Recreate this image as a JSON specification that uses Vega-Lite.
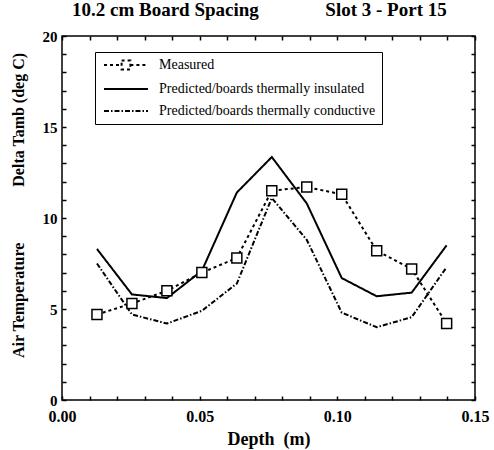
{
  "$schema": "https://vega.github.io/schema/vega-lite/v6.json",
  "width": 413,
  "height": 364,
  "autosize": {"type": "none"},
  "padding": {"left": 62, "top": 36, "right": 19, "bottom": 50},
  "background": "white",
  "config": {
    "font": "Liberation Serif",
    "view": {"stroke": "black", "strokeWidth": 1.5},
    "axis": {"grid": false, "domain": false, "tickColor": "black", "labelColor": "black", "titleColor": "black", "labelFont": "Liberation Serif", "titleFont": "Liberation Serif", "labelFontWeight": "bold", "titleFontWeight": "bold"}
  },
  "title": {
    "text": "10.2 cm Board Spacing\u00a0\u00a0\u00a0\u00a0\u00a0\u00a0\u00a0\u00a0\u00a0\u00a0\u00a0\u00a0\u00a0\u00a0Slot 3 - Port 15",
    "anchor": "start",
    "frame": "group",
    "dx": 10,
    "offset": 9,
    "font": "Liberation Serif",
    "fontSize": 19,
    "fontWeight": "bold",
    "color": "black"
  },
  "data": {
    "values": [
      {"depth": 0.0127, "temp": 4.7, "series": "Measured"},
      {"depth": 0.0254, "temp": 5.3, "series": "Measured"},
      {"depth": 0.0381, "temp": 6.0, "series": "Measured"},
      {"depth": 0.0508, "temp": 7.0, "series": "Measured"},
      {"depth": 0.0635, "temp": 7.8, "series": "Measured"},
      {"depth": 0.0762, "temp": 11.5, "series": "Measured"},
      {"depth": 0.0889, "temp": 11.7, "series": "Measured"},
      {"depth": 0.1016, "temp": 11.3, "series": "Measured"},
      {"depth": 0.1143, "temp": 8.2, "series": "Measured"},
      {"depth": 0.127, "temp": 7.2, "series": "Measured"},
      {"depth": 0.1397, "temp": 4.2, "series": "Measured"},
      {"depth": 0.0127, "temp": 8.3, "series": "Predicted/boards thermally insulated"},
      {"depth": 0.0254, "temp": 5.8, "series": "Predicted/boards thermally insulated"},
      {"depth": 0.0381, "temp": 5.6, "series": "Predicted/boards thermally insulated"},
      {"depth": 0.0508, "temp": 7.1, "series": "Predicted/boards thermally insulated"},
      {"depth": 0.0635, "temp": 11.4, "series": "Predicted/boards thermally insulated"},
      {"depth": 0.0762, "temp": 13.35, "series": "Predicted/boards thermally insulated"},
      {"depth": 0.0889, "temp": 10.8, "series": "Predicted/boards thermally insulated"},
      {"depth": 0.1016, "temp": 6.7, "series": "Predicted/boards thermally insulated"},
      {"depth": 0.1143, "temp": 5.7, "series": "Predicted/boards thermally insulated"},
      {"depth": 0.127, "temp": 5.9, "series": "Predicted/boards thermally insulated"},
      {"depth": 0.1397, "temp": 8.5, "series": "Predicted/boards thermally insulated"},
      {"depth": 0.0127, "temp": 7.5, "series": "Predicted/boards thermally conductive"},
      {"depth": 0.0254, "temp": 4.7, "series": "Predicted/boards thermally conductive"},
      {"depth": 0.0381, "temp": 4.2, "series": "Predicted/boards thermally conductive"},
      {"depth": 0.0508, "temp": 4.9, "series": "Predicted/boards thermally conductive"},
      {"depth": 0.0635, "temp": 6.4, "series": "Predicted/boards thermally conductive"},
      {"depth": 0.0762, "temp": 11.1, "series": "Predicted/boards thermally conductive"},
      {"depth": 0.0889, "temp": 8.8, "series": "Predicted/boards thermally conductive"},
      {"depth": 0.1016, "temp": 4.8, "series": "Predicted/boards thermally conductive"},
      {"depth": 0.1143, "temp": 4.0, "series": "Predicted/boards thermally conductive"},
      {"depth": 0.127, "temp": 4.55, "series": "Predicted/boards thermally conductive"},
      {"depth": 0.1397, "temp": 7.3, "series": "Predicted/boards thermally conductive"}
    ]
  },
  "layer": [
    {
      "mark": {"type": "line", "color": "black", "strokeWidth": 2},
      "encoding": {
        "x": {
          "field": "depth", "type": "quantitative",
          "scale": {"domain": [0, 0.15], "nice": false, "zero": false},
          "axis": {
            "orient": "bottom", "title": "Depth\u00a0\u00a0(m)", "titleFontSize": 18, "titlePadding": 6,
            "values": [0, 0.01, 0.02, 0.03, 0.04, 0.05, 0.06, 0.07, 0.08, 0.09, 0.1, 0.11, 0.12, 0.13, 0.14, 0.15],
            "labelExpr": "abs(datum.value*20 - round(datum.value*20)) < 0.001 ? format(datum.value, '.2f') : ''",
            "labelFontSize": 16, "labelPadding": 12, "tickSize": -4, "tickWidth": 1.5, "labelFlush": false
          }
        },
        "y": {
          "field": "temp", "type": "quantitative",
          "scale": {"domain": [0, 20], "nice": false},
          "axis": {
            "orient": "left", "title": "Air Temperature\u00a0\u00a0\u00a0\u00a0\u00a0\u00a0\u00a0\u00a0\u00a0\u00a0\u00a0\u00a0\u00a0\u00a0Delta Tamb (deg C)", "titleFontSize": 16, "titlePadding": 16, "titleY": 169,
            "values": [0,1,2,3,4,5,6,7,8,9,10,11,12,13,14,15,16,17,18,19,20],
            "labelExpr": "datum.value % 5 == 0 ? datum.label : ''",
            "labelFontSize": 15, "labelPadding": 9, "tickSize": -4, "tickWidth": 1.5
          }
        },
        "detail": {"field": "series"},
        "strokeDash": {
          "field": "series", "type": "nominal",
          "scale": {
            "domain": ["Measured", "Predicted/boards thermally insulated", "Predicted/boards thermally conductive"],
            "range": [[3, 3], [1, 0], [5, 2, 1.5, 2]]
          },
          "legend": {
            "title": null,
            "orient": "none",
            "legendX": 33,
            "legendY": 16,
            "strokeColor": "black",
            "fillColor": "white",
            "padding": 6,
            "symbolSize": 121,
            "symbolOffset": 18,
            "symbolStrokeWidth": 2,
            "symbolStrokeColor": "black",
            "labelFont": "Liberation Serif",
            "labelFontSize": 14,
            "labelColor": "black",
            "labelOffset": 26,
            "rowPadding": 8,
            "labelLimit": 300,
            "encode": {
              "symbols": {
                "update": {
                  "shape": {"signal": "datum.value == 'Measured' ? 'M-4,0H-0.8M-0.8,-0.8H0.8V0.8H-0.8ZM0.8,0H4' : 'M-4,0H4'"},
                  "fill": {"value": "white"},
                  "stroke": {"value": "black"},
                  "strokeWidth": {"value": 2},
                  "strokeDash": {"scale": "strokeDash", "field": "value"},
                  "size": {"value": 121}
                }
              }
            }
          }
        }
      }
    },
    {
      "transform": [{"filter": "datum.series == 'Measured'"}],
      "mark": {"type": "point", "shape": "square", "filled": true, "fill": "white", "stroke": "black", "strokeWidth": 1.5, "size": 100, "opacity": 1},
      "encoding": {
        "x": {
          "field": "depth", "type": "quantitative",
          "axis": {
            "orient": "top", "title": null, "labels": false,
            "values": [0, 0.01, 0.02, 0.03, 0.04, 0.05, 0.06, 0.07, 0.08, 0.09, 0.1, 0.11, 0.12, 0.13, 0.14, 0.15],
            "tickSize": -4, "tickWidth": 1.5
          }
        },
        "y": {
          "field": "temp", "type": "quantitative",
          "axis": {
            "orient": "right", "title": null, "labels": false,
            "values": [0,1,2,3,4,5,6,7,8,9,10,11,12,13,14,15,16,17,18,19,20],
            "tickSize": -4, "tickWidth": 1.5
          }
        }
      }
    }
  ],
  "resolve": {"axis": {"x": "independent", "y": "independent"}}
}
